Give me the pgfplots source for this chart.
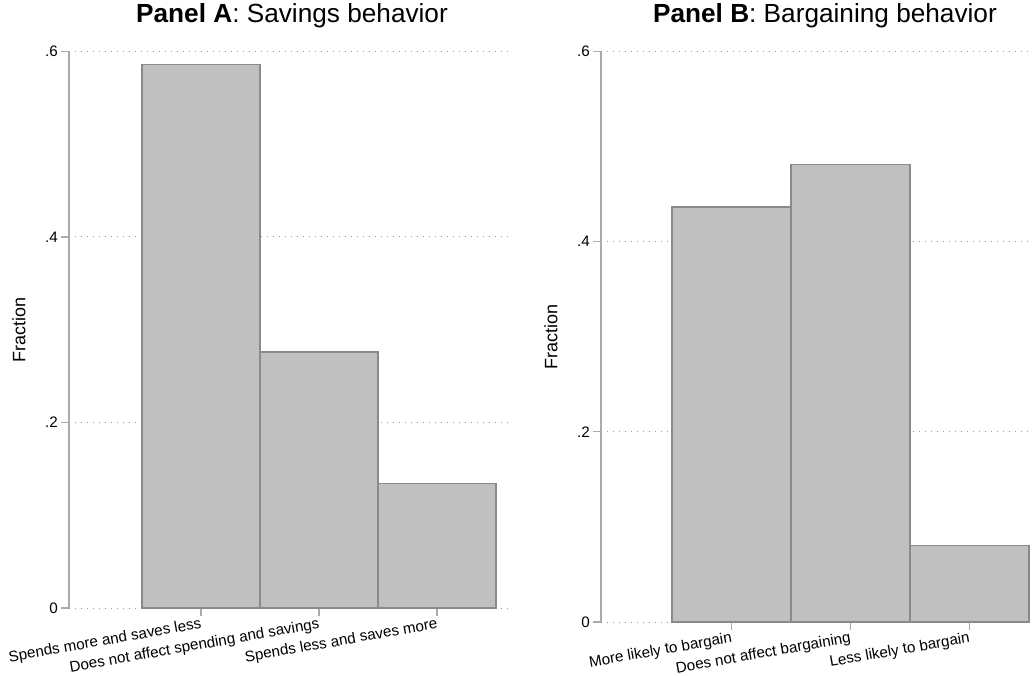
\documentclass[border=0pt]{standalone}
\usepackage{fontspec}
\setmainfont{Liberation Sans}
\usepackage{pgfplots}
\pgfplotsset{compat=1.18}
\definecolor{barfill}{RGB}{192,192,192}
\definecolor{baredge}{RGB}{138,138,138}
\definecolor{spine}{RGB}{170,170,170}
\definecolor{gridc}{RGB}{150,150,150}
\pgfplotsset{panel/.style={
  scale only axis,
  anchor=south west,
  ymin=0, ymax=0.6,
  ytick={0,0.2,0.4,0.6},
  yticklabels={0,.2,.4,.6},
  xtick={1,2,3},
  axis lines*=left,
  x axis line style={draw=none},
  y axis line style={draw=spine, line width=1.3pt},
  tick align=outside,
  major tick length=8pt,
  tick style={draw=spine, line width=1.3pt},
  ymajorgrids,
  grid style={draw=gridc, line width=0.9pt, dash pattern=on 0.9pt off 5.1pt},
  ticklabel style={font=\fontsize{15.2}{17}\selectfont},
  yticklabel style={inner sep=1pt, xshift=-2pt},
  xticklabel style={rotate=10, anchor=north east, inner sep=1pt},
  ylabel={Fraction},
  ylabel style={font=\fontsize{18}{20}\selectfont, at={([xshift=-50pt]axis description cs:0,0.5)}, anchor=center},
  title style={font=\fontsize{26.2}{29}\selectfont, anchor=base},
}}
\begin{document}
\begin{tikzpicture}
\useasboundingbox (0,0) rectangle (1032pt,675pt);
\begin{axis}[panel,
  at={(69pt,67pt)}, width=439pt, height=556.7pt,
  xmin=-0.117, xmax=3.6,
  xticklabels={Spends more and saves less, Does not affect spending and savings, Spends less and saves more},
  title={\textbf{Panel A}: Savings behavior},
  title style={at={([yshift=23pt]axis description cs:0.508,1)}},
]
\addplot[ybar, bar width=1, bar shift=0pt, fill=barfill, draw=baredge, line width=1.5pt]
  coordinates {(1,0.586) (2,0.276) (3,0.134)};
\end{axis}
\begin{axis}[panel,
  at={(601pt,53pt)}, width=429pt, height=570.5pt,
  xmin=-0.097, xmax=3.51,
  xticklabels={More likely to bargain, Does not affect bargaining, Less likely to bargain},
  title={\textbf{Panel B}: Bargaining behavior},
  title style={at={([yshift=23pt]axis description cs:0.522,1)}},
]
\addplot[ybar, bar width=1, bar shift=0pt, fill=barfill, draw=baredge, line width=1.5pt]
  coordinates {(1,0.4365) (2,0.481) (3,0.0807)};
\end{axis}
\end{tikzpicture}
\end{document}
